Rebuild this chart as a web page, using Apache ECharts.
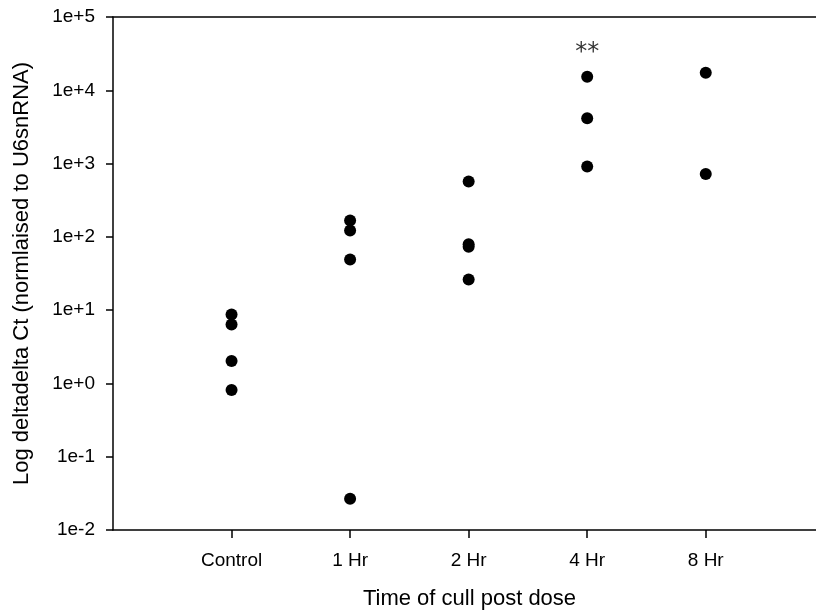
<!DOCTYPE html>
<html>
<head>
<meta charset="utf-8">
<script src="https://cdn.jsdelivr.net/npm/echarts@6/dist/echarts.min.js"></script>
<style>html,body{margin:0;padding:0;background:#fff}#c{width:816px;height:615px}</style>
</head>
<body>
<div id="c"></div>
<script>
var categories = ['Control', '1 Hr', '2 Hr', '4 Hr', '8 Hr'];
var controlValues = [8.74, 6.39, 2.02, 0.816];
var hr1Values = [167, 122, 49, 0.0267];
var hr2Values = [569, 79, 73, 26.2];
var hr4Values = [15300, 4150, 910];
var hr8Values = [17300, 718];
var groupValues = [controlValues, hr1Values, hr2Values, hr4Values, hr8Values];
var yTickLabels = ['1e-2', '1e-1', '1e+0', '1e+1', '1e+2', '1e+3', '1e+4', '1e+5'];
var annotationCategory = '4 Hr';
var annotationText = '**';
var annotationValue = 33000;

var points = [];
groupValues.forEach(function (vals, i) {
  vals.forEach(function (v) { points.push([i + 1, v]); });
});

var font = 'Liberation Sans, Arial, sans-serif';
var tickPositions = categories.map(function (c, i) { return i + 1; });
var chart = echarts.init(document.getElementById('c'), null, {renderer: 'canvas'});
chart.setOption({
  animation: false,
  backgroundColor: '#fff',
  grid: {left: 113, top: 17, right: 0, bottom: 84, show: false, containLabel: false},
  xAxis: [{
    type: 'value', min: 0, max: 5.93,
    name: 'Time of cull post dose', nameLocation: 'middle', nameGap: 58,
    nameTextStyle: {fontFamily: font, fontSize: 22, color: '#000', padding: [0, 0, 0, 10]},
    axisLine: {show: true, lineStyle: {color: '#000', width: 1.5}},
    axisTick: {show: true, length: 8, lineStyle: {color: '#000', width: 1.5}, customValues: tickPositions},
    axisLabel: {fontFamily: font, fontSize: 19, color: '#000', margin: 21,
      customValues: tickPositions,
      formatter: function (v) { return categories[Math.round(v) - 1] || ''; }},
    splitLine: {show: false}
  }, {
    type: 'value', min: 0, max: 5.93, position: 'top',
    axisLine: {show: true, onZero: false, lineStyle: {color: '#000', width: 1.5}},
    axisTick: {show: false}, axisLabel: {show: false}, splitLine: {show: false}
  }],
  yAxis: {
    type: 'log', logBase: 10, min: 0.01, max: 100000, interval: 1,
    name: 'Log deltadelta Ct (normlaised to U6snRNA)', nameLocation: 'middle', nameGap: 80,
    nameTextStyle: {fontFamily: font, fontSize: 22, color: '#000'},
    axisLine: {show: true, lineStyle: {color: '#000', width: 1.5}},
    axisTick: {show: true, length: 7, lineStyle: {color: '#000', width: 1.5}},
    axisLabel: {fontFamily: font, fontSize: 19, color: '#000', margin: 18,
      formatter: function (v) {
        var e = Math.round(Math.log10(v));
        return yTickLabels[e + 2] || '';
      }},
    minorTick: {show: false},
    splitLine: {show: false}
  },
  series: [{
    type: 'scatter', data: points, symbol: 'circle', symbolSize: 12,
    itemStyle: {color: '#000', opacity: 1}
  }, {
    type: 'scatter', symbolSize: 0,
    data: [[categories.indexOf(annotationCategory) + 1, annotationValue]],
    label: {show: true, position: 'inside', formatter: annotationText, fontFamily: 'DejaVu Sans', fontSize: 24, color: '#000'}
  }]
});
</script>
</body>
</html>
